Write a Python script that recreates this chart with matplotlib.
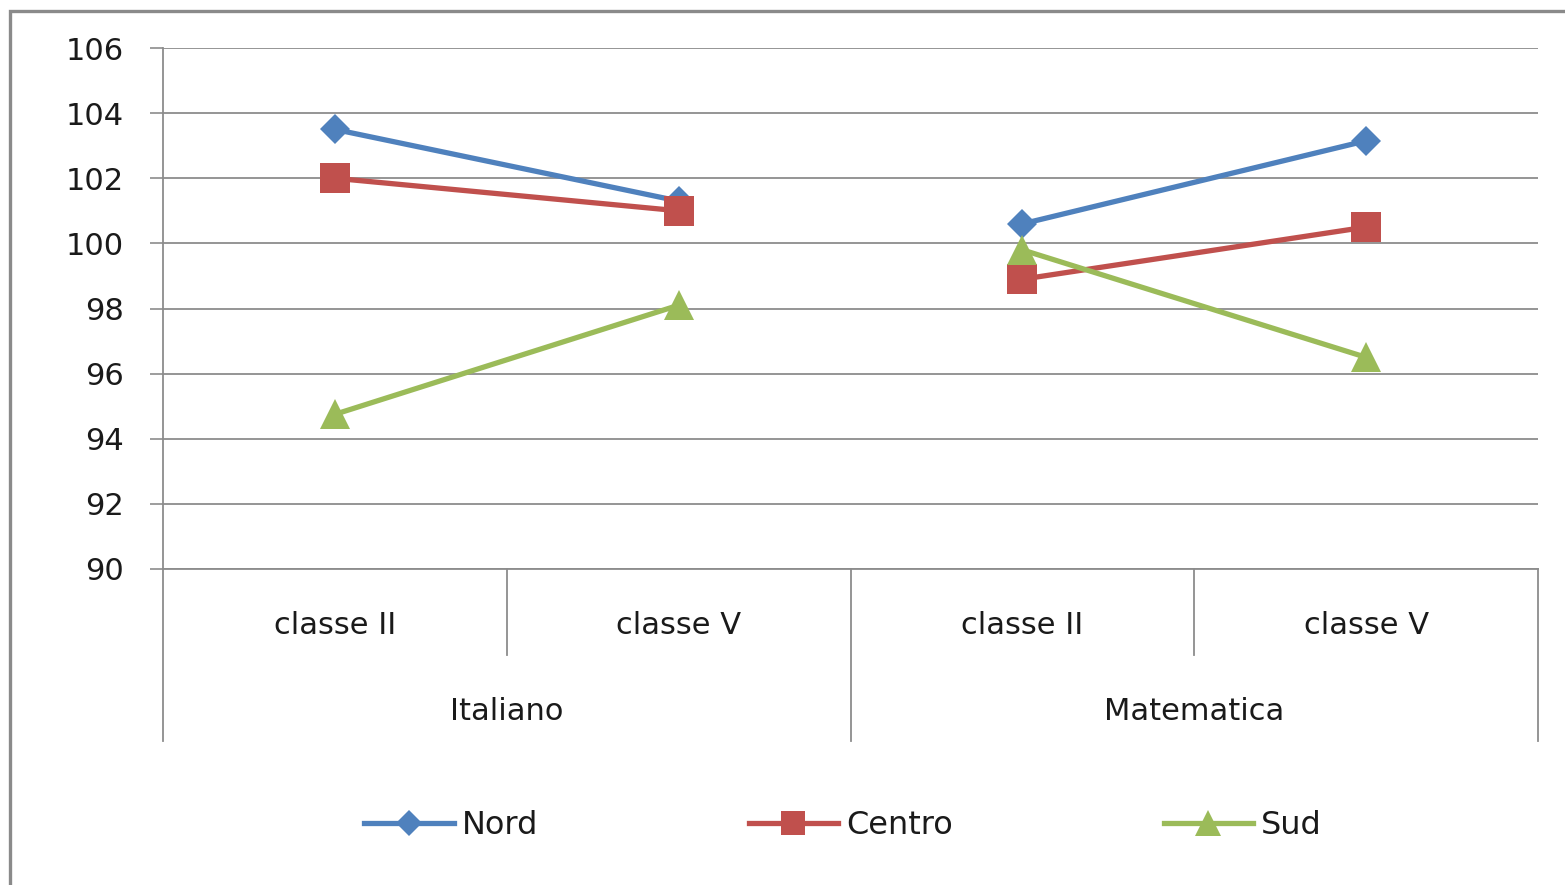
import matplotlib
matplotlib.use("Agg")
import matplotlib.pyplot as plt
import matplotlib.transforms as mtransforms
from matplotlib.patches import Rectangle
import numpy as np

# ---- data ----
classes = ["classe II", "classe V", "classe II", "classe V"]
subjects = ["Italiano", "Matematica"]
nord = [103.5, 101.3, 100.6, 103.15]
centro = [102.0, 101.0, 98.9, 100.5]
sud = [94.75, 98.1, 99.8, 96.5]
yticks = [90, 92, 94, 96, 98, 100, 102, 104, 106]

W, H = 1565, 885
fig = plt.figure(figsize=(W / 100, H / 100), dpi=100)
fig.patch.set_facecolor("white")

# outer chart border (cut by image edges on right/bottom)
fig.add_artist(Rectangle((10 / W, -0.1), 1.2, (1 - 11 / H) + 0.1,
                         transform=fig.transFigure, fill=False,
                         edgecolor="#8a8a8a", lw=2.4, zorder=0))

ax = fig.add_axes([163 / W, 1 - 569 / H, (1538 - 163) / W, (569 - 48) / H])
gray = "#8c8c8c"
tc = "#1a1a1a"
fs = 22

ax.set_xlim(-0.5, 3.5)
ax.set_ylim(90, 106)
ax.set_yticks(yticks)
ax.set_yticklabels([str(v) for v in yticks], fontsize=fs, color=tc)
ax.tick_params(axis="y", length=9.4, width=1.2, color=gray, pad=19)
ax.set_xticks([])
ax.yaxis.grid(True, color=gray, lw=1.3)
ax.set_axisbelow(True)
for s in ["top", "right"]:
    ax.spines[s].set_visible(False)
for s in ["left", "bottom"]:
    ax.spines[s].set_color(gray)
    ax.spines[s].set_linewidth(1.3)

# category axis dividers
trans = mtransforms.blended_transform_factory(ax.transData, ax.transAxes)
x = np.arange(len(classes))
inner_depth = -86 / 521
outer_depth = -172 / 521
for xd in [-0.5, 1.5, 3.5]:
    ax.plot([xd, xd], [outer_depth, 0], color=gray, lw=1.3, transform=trans, clip_on=False)
for xd in [0.5, 2.5]:
    ax.plot([xd, xd], [inner_depth, 0], color=gray, lw=1.3, transform=trans, clip_on=False)
for xi, lab in zip(x, classes):
    ax.text(xi, -56 / 521, lab, transform=trans, ha="center", va="center", fontsize=fs, color=tc)
for gi, lab in enumerate(subjects):
    ax.text(2 * gi + 0.5, -142 / 521, lab, transform=trans, ha="center", va="center", fontsize=fs, color=tc)

series = [
    ("Nord", nord, "#4F81BD", "D", 15),
    ("Centro", centro, "#C0504D", "s", 21),
    ("Sud", sud, "#9BBB59", "^", 22),
]
handles = []
for name, vals, col, mk, ms in series:
    for g in range(2):
        xs = x[2 * g:2 * g + 2]
        ys = vals[2 * g:2 * g + 2]
        ln, = ax.plot(xs, ys, color=col, lw=3.8, marker=mk, ms=ms,
                      markeredgewidth=0, clip_on=False, zorder=3,
                      label=name if g == 0 else None)
        if g == 0:
            handles.append(ln)

leg = fig.legend(handles=handles, loc="center", bbox_to_anchor=(843 / W, 1 - 826 / H),
                 ncol=3, frameon=False, fontsize=23, handlelength=2.8,
                 handletextpad=0.25, columnspacing=6.6, markerscale=0.85)
for t in leg.get_texts():
    t.set_color(tc)

fig.savefig("out.png", dpi=100, facecolor="white")
